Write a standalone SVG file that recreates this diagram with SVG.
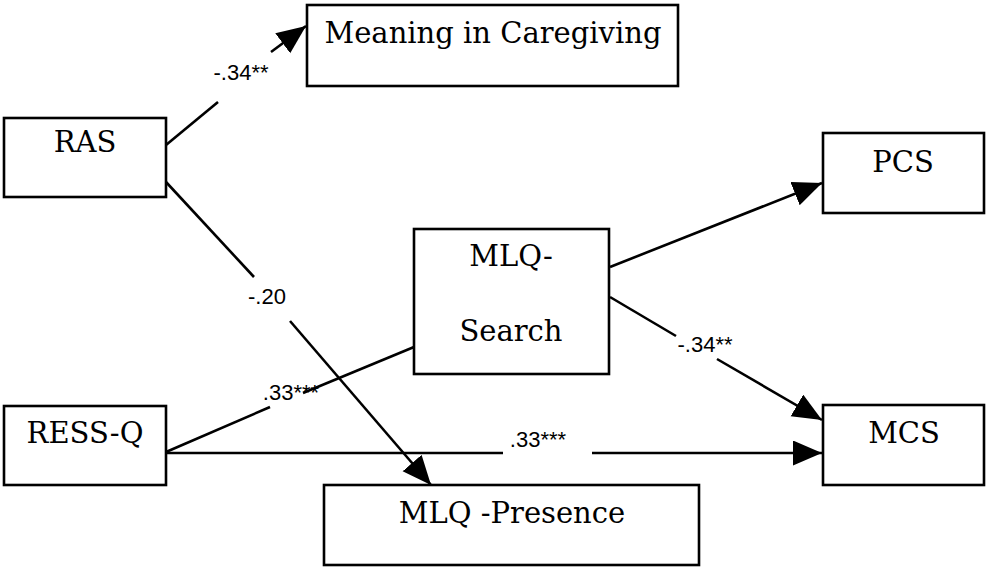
<svg xmlns="http://www.w3.org/2000/svg" width="987" height="567" viewBox="0 0 987 567">
  <style>
    .box { fill: #ffffff; stroke: #000000; stroke-width: 2.6; }
    .node { font-family: "DejaVu Serif", "Liberation Serif", serif; font-size: 29px; fill: #000000; text-anchor: middle; }
    .edge { stroke: #000000; stroke-width: 2.6; fill: none; }
    .lbl { font-family: "Liberation Sans", Arial, sans-serif; font-size: 22px; fill: #000000; text-anchor: middle; }
  </style>
  <defs>
    <marker id="arrow" markerUnits="userSpaceOnUse" markerWidth="32" markerHeight="28" refX="29" refY="12.5" orient="auto">
      <path d="M0,0 L29,12.5 L0,25 z" fill="#000000"/>
    </marker>
  </defs>
  <rect width="987" height="567" fill="#ffffff"/>

  <g id="connectors">
    <!-- RAS -> Meaning in Caregiving -->
    <line class="edge" x1="166" y1="145" x2="218" y2="102"/>
    <line class="edge" x1="271" y1="52" x2="306" y2="26" marker-end="url(#arrow)"/>
    <text class="lbl" x="241" y="80">-.34**</text>

    <!-- RAS -> MLQ-Presence -->
    <line class="edge" x1="166" y1="182" x2="254" y2="277"/>
    <line class="edge" x1="290" y1="321" x2="431" y2="485" marker-end="url(#arrow)"/>
    <text class="lbl" x="267" y="304">-.20</text>

    <!-- RESS-Q -> MLQ-Search -->
    <line class="edge" x1="166" y1="452" x2="270" y2="407"/>
    <line class="edge" x1="303" y1="393" x2="414" y2="347"/>
    <text class="lbl" x="291" y="400">.33***</text>

    <!-- RESS-Q -> MCS -->
    <line class="edge" x1="166" y1="453" x2="503" y2="453"/>
    <line class="edge" x1="592" y1="453" x2="822" y2="453" marker-end="url(#arrow)"/>
    <text class="lbl" x="538" y="447">.33***</text>

    <!-- MLQ-Search -> PCS -->
    <line class="edge" x1="610" y1="267" x2="822" y2="183" marker-end="url(#arrow)"/>

    <!-- MLQ-Search -> MCS -->
    <line class="edge" x1="610" y1="297" x2="676" y2="336"/>
    <line class="edge" x1="717" y1="359" x2="822" y2="420" marker-end="url(#arrow)"/>
    <text class="lbl" x="705" y="352">-.34**</text>
  </g>

  <g id="node-meaning">
    <rect class="box" x="307" y="5" width="371" height="81"/>
    <text class="node" x="493" y="43">Meaning in Caregiving</text>
  </g>
  <g id="node-ras">
    <rect class="box" x="4" y="118" width="162" height="79"/>
    <text class="node" x="85" y="152">RAS</text>
  </g>
  <g id="node-pcs">
    <rect class="box" x="823" y="133" width="161" height="80"/>
    <text class="node" x="903" y="172">PCS</text>
  </g>
  <g id="node-mlq-search">
    <rect class="box" x="414" y="229" width="195" height="145"/>
    <text class="node" x="511" y="266">MLQ-</text>
    <text class="node" x="511" y="341">Search</text>
  </g>
  <g id="node-ress-q">
    <rect class="box" x="4" y="406" width="162" height="79"/>
    <text class="node" x="85" y="443">RESS-Q</text>
  </g>
  <g id="node-mcs">
    <rect class="box" x="823" y="405" width="161" height="80"/>
    <text class="node" x="904" y="443">MCS</text>
  </g>
  <g id="node-mlq-presence">
    <rect class="box" x="324" y="485" width="375" height="80"/>
    <text class="node" x="512" y="523">MLQ -Presence</text>
  </g>
</svg>
